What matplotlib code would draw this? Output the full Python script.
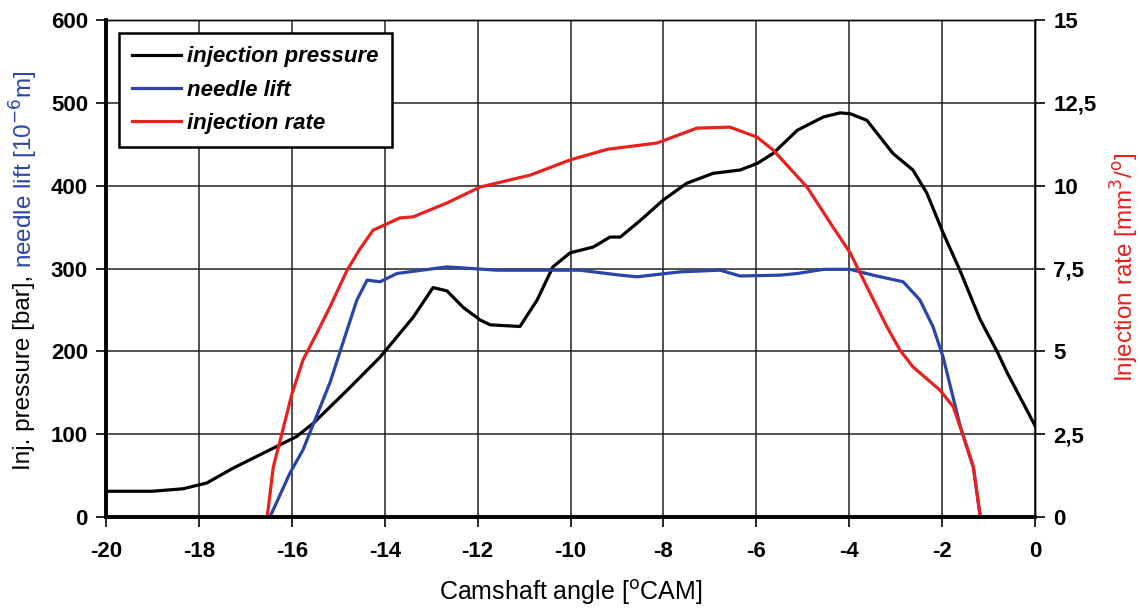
import numpy as np
import matplotlib.pyplot as plt
from matplotlib.ticker import FuncFormatter

plt.rcParams['font.family'] = ['Liberation Sans', 'DejaVu Sans']
plt.rcParams['axes.unicode_minus'] = False

# injection pressure [bar]
press_x = [-20, -19, -18.34, -17.83, -17.26, -16.4, -15.9, -15.54, -14.81, -14.1, -13.39,
           -12.96, -12.66, -12.31, -11.95, -11.73, -11.09, -10.72, -10.38, -10.01, -9.51, -9.15,
           -8.93, -8.5, -8.0, -7.5, -6.93, -6.35, -5.98, -5.64, -5.12, -4.56, -4.2, -3.98,
           -3.62, -3.34, -3.06, -2.63, -2.33, -1.98, -1.62, -1.18, -0.82, -0.6, 0]
press_y = [31, 31, 34, 41, 59, 83, 97, 113, 153, 193, 241,
           277, 273, 253, 238, 232, 230, 262, 302, 319, 326, 338,
           338, 358, 383, 403, 415, 419, 427, 439, 467, 483, 488, 487,
           479, 459, 439, 419, 391, 343, 298, 238, 200, 174, 110]

# needle lift [10^-6 m]
lift_x = [-16.47, -16.04, -15.76, -15.18, -14.6, -14.38, -14.1, -13.74, -12.66, -11.58,
          -9.8, -8.93, -8.57, -7.64, -6.78, -6.35, -5.49, -5.12, -4.56, -3.98, -3.49, -2.84,
          -2.48, -2.2, -1.98, -1.61, -1.33, -1.18]
lift_y = [0, 53, 81, 162, 262, 286, 284, 294, 302, 298,
          298, 292, 290, 296, 298, 291, 292, 294, 299, 299, 292, 284,
          262, 230, 193, 109, 60, 0]

# injection rate [mm3/deg]
rate_x = [-16.53, -16.4, -16.25, -16.0, -15.76, -15.46, -15.18, -14.81, -14.53, -14.25,
          -13.67, -13.39, -12.66, -11.95, -10.87, -10.01, -9.21, -8.14, -7.28, -6.57, -5.99,
          -5.64, -4.91, -4.35, -3.98, -3.62, -3.19, -2.91, -2.63, -2.05, -1.76, -1.54,
          -1.33, -1.18]
rate_y = [0, 1.5, 2.32, 3.7, 4.74, 5.55, 6.34, 7.45, 8.1, 8.66,
          9.03, 9.06, 9.48, 9.96, 10.32, 10.78, 11.1, 11.29, 11.74, 11.77, 11.47,
          11.08, 9.96, 8.75, 7.97, 6.95, 5.74, 5.04, 4.53, 3.83, 3.32, 2.42,
          1.51, 0]

c_blue = '#2a44a8'
c_red = '#e8201e'

fig = plt.figure(figsize=(11.4, 6.11), dpi=100)
ax1 = fig.add_axes([0.093, 0.154, 0.815, 0.813])
ax2 = ax1.twinx()

l1, = ax1.plot(press_x, press_y, color='black', lw=2.3, label='injection pressure')
l2, = ax1.plot(lift_x, lift_y, color=c_blue, lw=2.3, label='needle lift')
l3, = ax2.plot(rate_x, rate_y, color=c_red, lw=2.3, label='injection rate')

ax1.set_xlim(-20, 0)
ax1.set_ylim(0, 600)
ax2.set_ylim(0, 15)
ax1.set_xticks(np.arange(-20, 1, 2))
ax1.set_yticks(np.arange(0, 601, 100))
ax2.set_yticks(np.arange(0, 15.1, 2.5))
ax2.yaxis.set_major_formatter(FuncFormatter(lambda v, p: ('%g' % v).replace('.', ',')))

ax1.grid(True, color='#222222', lw=1.1)
for ax in (ax1, ax2):
    ax.spines['top'].set_linewidth(1.0)
    ax.spines['right'].set_linewidth(1.0)
    ax.spines['left'].set_linewidth(2.6)
    ax.spines['bottom'].set_linewidth(2.6)
ax1.tick_params(axis='x', direction='out', length=7, width=1.2, labelsize=16, pad=10)
ax1.tick_params(axis='y', direction='out', length=7, width=1.2, labelsize=16, pad=6)
ax2.tick_params(axis='y', direction='out', length=7, width=1.2, labelsize=16, pad=6)
for lab in ax1.get_xticklabels() + ax1.get_yticklabels() + ax2.get_yticklabels():
    lab.set_fontweight('bold')

ax1.set_xlabel('Camshaft angle [$^{\\rm o}$CAM]', fontsize=18, labelpad=12)

# two-coloured left axis label
split = 0.561
fig.text(0.021, split, 'Inj. pressure [bar], ', rotation=90, ha='center', va='top',
         fontsize=17.5, color='black')
fig.text(0.021, split, 'needle lift [10$^{-6}$m]', rotation=90, ha='center', va='bottom',
         fontsize=17.5, color=c_blue)
fig.text(0.987, 0.563, 'Injection rate [mm$^3$/$^{\\rm o}$]', rotation=90, ha='center',
         va='center', fontsize=17.5, color=c_red)

leg = ax1.legend(handles=[l1, l2, l3], loc='upper left', bbox_to_anchor=(0.014, 0.974),
                 borderaxespad=0, fancybox=False, framealpha=1, edgecolor='black',
                 prop={'style': 'italic', 'weight': 'bold', 'size': 16},
                 handlelength=2.2, handletextpad=0.25, labelspacing=0.55, borderpad=0.6)
leg.get_frame().set_linewidth(1.8)
leg.remove()
ax2.add_artist(leg)

fig.savefig('out.png', dpi=100)
